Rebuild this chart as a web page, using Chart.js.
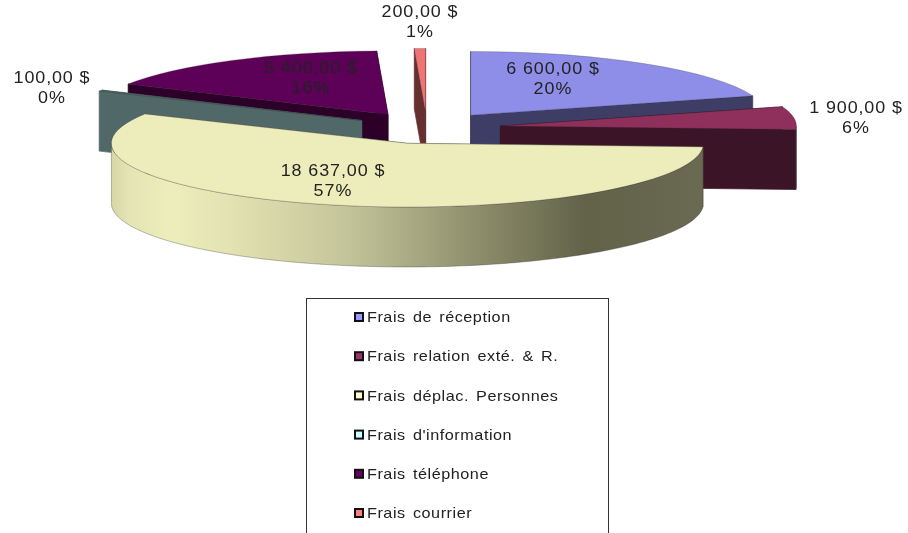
<!DOCTYPE html>
<html>

<head>
    <title>Frais</title>
    <script src="https://cdn.jsdelivr.net/npm/chart.js"></script>
    <style>
        html, body { margin: 0; padding: 0; background: #fff; overflow: hidden; }
        canvas { display: block; }
    </style>
</head>

<body>
    <canvas id="myChart" width="908" height="533"></canvas>

    <script>
        const categories = ['Frais de réception', 'Frais relation exté. & R.', 'Frais déplac. Personnes', "Frais d'information", 'Frais téléphone', 'Frais courrier'];
        const values = [6600, 1900, 18637, 100, 5400, 200];
        const valueLabels = ['6 600,00 $', '1 900,00 $', '18 637,00 $', '100,00 $', '5 400,00 $', '200,00 $'];

        const topColors = ['#8e8ee8', '#8e2f5c', '#ededbc', '#506868', '#5c0058', '#f07474'];
        const wallColors = ['#3d3d66', '#3c1428', '#66664e', '#506868', '#2c0028', '#663030'];
        const legendColors = ['#9999ff', '#993366', '#ffffcc', '#ccffff', '#660066', '#ff8080'];

        // centre of each value label on the page
        const labelX = [553, 856, 333, 52, 311, 420];
        const labelY = [70, 109, 172, 79, 69, 13];

        // pie geometry on the page
        const centerX = 427, centerY = 128, radius = 296;
        const flatten = 0.215, depth = 60, explode = 74;

        const total = values.reduce((a, b) => a + b, 0);

        function wideText(ctx, text, x, y, stretch, spacing, words, align) {
            ctx.save();
            ctx.translate(x, y);
            ctx.scale(stretch, 1);
            ctx.letterSpacing = spacing + 'px';
            ctx.wordSpacing = words + 'px';
            ctx.textAlign = align;
            ctx.textBaseline = 'middle';
            ctx.fillText(text, 0, 0);
            ctx.restore();
        }

        function apexOf(arc) {
            const half = (arc.startAngle + arc.endAngle) / 2;
            return {
                x: centerX + explode * Math.cos(half),
                y: centerY + explode * flatten * Math.sin(half)
            };
        }

        function rim(arc, from, to) {
            const apex = apexOf(arc);
            const pts = [];
            const steps = Math.max(2, Math.ceil((to - from) * 60));
            for (let s = 0; s <= steps; s++) {
                const a = from + (to - from) * s / steps;
                pts.push({ x: apex.x + arc.outerRadius * Math.cos(a), y: apex.y + arc.outerRadius * flatten * Math.sin(a) });
            }
            return pts;
        }

        function polygon(ctx, pts, fill, line) {
            ctx.beginPath();
            pts.forEach((p, i) => i ? ctx.lineTo(p.x, p.y) : ctx.moveTo(p.x, p.y));
            ctx.closePath();
            ctx.fillStyle = fill;
            ctx.fill();
            ctx.strokeStyle = line;
            ctx.lineWidth = 0.7;
            ctx.stroke();
        }

        function drawWalls(ctx, arc, i) {
            const apex = apexOf(arc);
            const drop = p => ({ x: p.x, y: p.y + depth });
            const ends = rim(arc, arc.startAngle, arc.endAngle);
            [ends[0], ends[ends.length - 1]].forEach(p => {
                polygon(ctx, [apex, p, drop(p), drop(apex)], wallColors[i], wallColors[i]);
            });

            // only the part of the rim turned towards the viewer
            const from = Math.max(arc.startAngle, 0);
            const to = Math.min(arc.endAngle, Math.PI);
            if (to > from) {
                const edge = rim(arc, from, to);
                const grad = ctx.createLinearGradient(apex.x - arc.outerRadius, 0, apex.x + arc.outerRadius, 0);
                grad.addColorStop(0, '#d6d6a8');
                grad.addColorStop(0.03, '#e4e4b4');
                grad.addColorStop(0.1, '#eeeebc');
                grad.addColorStop(0.2, '#e2e2b2');
                grad.addColorStop(0.4, '#c4c49a');
                grad.addColorStop(0.6, '#92926f');
                grad.addColorStop(0.8, '#626249');
                grad.addColorStop(1, '#6a6a52');
                polygon(ctx, edge.concat(edge.slice().reverse().map(drop)), grad, 'rgba(40,40,40,0.45)');
            }
        }

        const flatPie = {
            id: 'flatPie',
            beforeDatasetsDraw(chart) {
                const ctx = chart.ctx;
                const arcs = chart.getDatasetMeta(0).data;

                // back to front
                const order = arcs.map((arc, i) => i).sort((a, b) => {
                    const mid = arc => Math.sin((arc.startAngle + arc.endAngle) / 2);
                    return mid(arcs[a]) - mid(arcs[b]);
                });
                order.forEach(i => drawWalls(ctx, arcs[i], i));

                arcs.forEach(arc => {
                    const apex = apexOf(arc);
                    ctx.save();
                    ctx.translate(apex.x, apex.y);
                    ctx.scale(1, flatten);
                    ctx.translate(-arc.x, -arc.y);
                    arc.draw(ctx);
                    ctx.restore();

                    ctx.beginPath();
                    ctx.moveTo(apex.x, apex.y);
                    rim(arc, arc.startAngle, arc.endAngle).forEach(p => ctx.lineTo(p.x, p.y));
                    ctx.closePath();
                    ctx.strokeStyle = 'rgba(40,40,40,0.35)';
                    ctx.lineWidth = 0.7;
                    ctx.stroke();
                });
                return false;
            },
            afterDraw(chart) {
                const ctx = chart.ctx;
                ctx.save();

                // value labels
                ctx.fillStyle = '#222';
                ctx.font = '16px "Liberation Sans"';
                values.forEach((v, i) => {
                    wideText(ctx, valueLabels[i], labelX[i], labelY[i], 1.12, 0.8, 0, 'center');
                    wideText(ctx, Math.round(v / total * 100) + '%', labelX[i], labelY[i] + 20, 1.12, 1, 0, 'center');
                });

                // legend box, runs off the bottom of the page
                ctx.strokeStyle = '#333';
                ctx.lineWidth = 1;
                ctx.strokeRect(306.5, 298.5, 302, 260);

                ctx.font = '15px "Liberation Sans"';
                categories.forEach((name, i) => {
                    const y = 318 + i * 39.2;
                    ctx.fillStyle = legendColors[i];
                    ctx.fillRect(355, y - 5, 8, 8);
                    ctx.strokeStyle = '#111';
                    ctx.lineWidth = 2;
                    ctx.strokeRect(355, y - 5, 8, 8);
                    ctx.fillStyle = '#222';
                    wideText(ctx, name, 367, y, 1.08, 0.5, 2, 'left');
                });
                ctx.restore();
            }
        };

        new Chart('myChart', {
            type: 'pie',
            data: {
                labels: categories,
                datasets: [{
                    data: values,
                    backgroundColor: topColors,
                    borderWidth: 0,
                    clip: false
                }]
            },
            options: {
                responsive: false,
                animation: false,
                radius: radius,
                plugins: {
                    legend: { display: false },
                    tooltip: { enabled: false }
                }
            },
            plugins: [flatPie]
        });
    </script>
</body>

</html>
